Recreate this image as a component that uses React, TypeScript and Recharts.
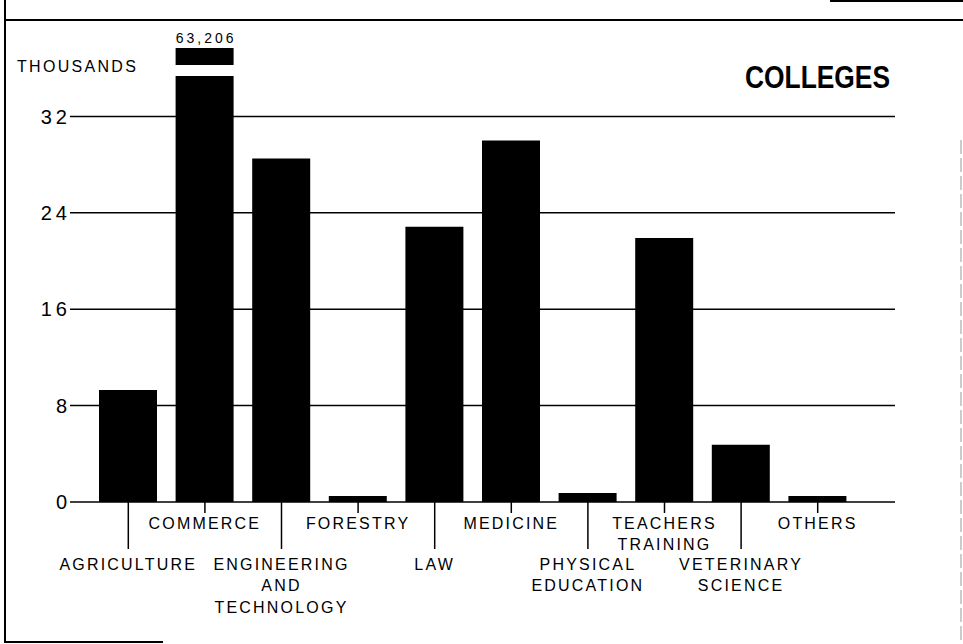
import { BarChart, Bar, XAxis, YAxis, CartesianGrid, LabelList } from "recharts";

const categories = [
  "AGRICULTURE",
  "COMMERCE",
  "ENGINEERING\nAND\nTECHNOLOGY",
  "FORESTRY",
  "LAW",
  "MEDICINE",
  "PHYSICAL\nEDUCATION",
  "TEACHERS\nTRAINING",
  "VETERINARY\nSCIENCE",
  "OTHERS",
];
// students, in thousands
const enrolment = [9.3, 63.206, 28.5, 0.5, 22.85, 30.0, 0.75, 21.9, 4.75, 0.5];
const yTicks = [0, 8, 16, 24, 32];

// commerce runs off the scale, so its bar is drawn broken with a small cap on top
const BREAK_AT = 35.35;
const GAP = 0.92;
const CAP = 1.41;

const data = categories.map((name, i) => {
  const v = enrolment[i];
  const broken = v > BREAK_AT;
  return {
    name,
    base: broken ? BREAK_AT : v,
    gap: broken ? GAP : 0,
    cap: broken ? CAP : 0,
    label: broken ? Math.round(v * 1000).toLocaleString("en-US") : "",
  };
});

const FONT = "'Liberation Sans', Arial, sans-serif";

function CategoryTick(props: any) {
  const { x, y, payload } = props;
  const idx = payload.index;
  const upper = idx % 2 === 1;
  const lines = String(payload.value).split("\n");
  const lineEnd = upper ? 11 : 47;
  const firstLine = upper ? 21 : 62;
  return (
    <g>
      <line x1={x} y1={y} x2={x} y2={y + lineEnd} stroke="#000" strokeWidth={1.5} />
      {lines.map((t, i) => (
        <text
          key={i}
          x={x}
          y={y + firstLine + i * 21.5}
          dy="0.35em"
          textAnchor="middle"
          fontFamily={FONT}
          fontSize={16}
          letterSpacing={2.2}
          fill="#000"
        >
          {t}
        </text>
      ))}
    </g>
  );
}

function ValueTick(props: any) {
  const { x, y, payload } = props;
  return (
    <text
      x={x + 1}
      y={y}
      dy="0.36em"
      textAnchor="end"
      fontFamily={FONT}
      fontSize={20}
      letterSpacing={4}
      fill="#000"
    >
      {payload.value}
    </text>
  );
}

function CapLabel(props: any) {
  const { x, y, width, value } = props;
  if (!value) return null;
  return (
    <text
      x={x + width / 2 + 1.5}
      y={y - 10}
      dy="0.35em"
      textAnchor="middle"
      fontFamily={FONT}
      fontSize={14}
      letterSpacing={3}
      fill="#000"
    >
      {value}
    </text>
  );
}

export default function App() {
  return (
    <div style={{ position: "relative", width: 963, height: 644, background: "#fff" }}>
      <style>{"body{margin:0}"}</style>
      <BarChart
        width={963}
        height={644}
        data={data}
        margin={{ top: 20, right: 68, bottom: 0, left: 0 }}
      >
        <CartesianGrid vertical={false} stroke="#000" strokeWidth={1.5} />
        <XAxis
          dataKey="name"
          interval={0}
          height={142}
          axisLine={false}
          tickLine={false}
          tickSize={0}
          tickMargin={0}
          padding={{ left: 20, right: 39 }}
          tick={<CategoryTick />}
        />
        <YAxis
          width={70}
          domain={[0, 40]}
          ticks={yTicks}
          axisLine={false}
          tickLine={false}
          tickSize={0}
          tickMargin={0}
          tick={<ValueTick />}
        />
        <Bar dataKey="base" stackId="a" fill="#000" barSize={58} isAnimationActive={false} />
        <Bar dataKey="gap" stackId="a" fill="transparent" barSize={58} isAnimationActive={false} />
        <Bar dataKey="cap" stackId="a" fill="#000" barSize={58} isAnimationActive={false}>
          <LabelList dataKey="label" content={<CapLabel />} />
        </Bar>
      </BarChart>
      <svg
        width={963}
        height={644}
        style={{ position: "absolute", left: 0, top: 0, pointerEvents: "none" }}
      >
        <line x1={5} y1={0} x2={5} y2={643} stroke="#000" strokeWidth={2} />
        <line x1={5} y1={20} x2={963} y2={20} stroke="#000" strokeWidth={2} />
        <line x1={830} y1={1} x2={963} y2={1} stroke="#000" strokeWidth={2} />
        <line x1={5} y1={642} x2={163} y2={642} stroke="#000" strokeWidth={2} />
        <line x1={961} y1={140} x2={961} y2={644} stroke="#999" strokeWidth={1} strokeDasharray="14 4" />
        <text
          x={17}
          y={66}
          dy="0.35em"
          fontFamily={FONT}
          fontSize={16}
          letterSpacing={2.3}
          fill="#000"
        >
          THOUSANDS
        </text>
        <text
          x={745}
          y={88}
          fontFamily={"'Liberation Sans Narrow', 'Liberation Sans', sans-serif"}
          fontWeight="bold"
          fontSize={32}
          textLength={145}
          lengthAdjust="spacingAndGlyphs"
          fill="#000"
        >
          COLLEGES
        </text>
      </svg>
    </div>
  );
}
